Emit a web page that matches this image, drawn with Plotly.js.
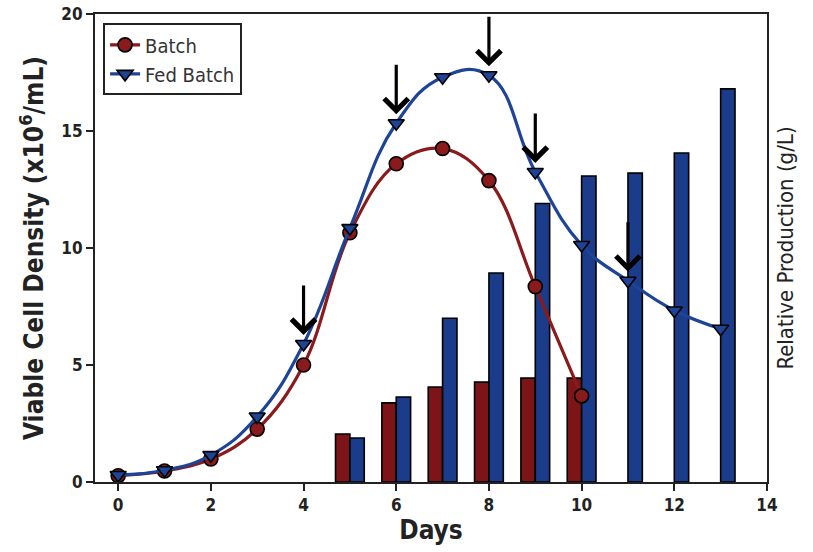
<!DOCTYPE html>
<html>
<head>
<meta charset="utf-8">
<script src="https://cdn.plot.ly/plotly-3.0.1.min.js"></script>
<style>html,body{margin:0;padding:0;background:#fff;}#chart{width:813px;height:552px;}</style>
</head>
<body>
<div id="chart"></div>
<script>
// Days
const days = [0,1,2,3,4,5,6,7,8,9,10,11,12,13];
// Viable cell density (x10^6/mL)
const batchDays = [0,1,2,3,4,5,6,7,8,9,10];
const batchVCD = [0.27,0.47,0.98,2.26,5.0,10.65,13.6,14.25,12.88,8.35,3.68];
const fedDays = [0,1,2,3,4,5,6,7,8,9,10,11,12,13];
const fedVCD = [0.3,0.5,1.15,2.8,5.9,10.85,15.33,17.3,17.38,13.25,10.13,8.6,7.33,6.55];
// Relative production (g/L) bars
const barBatchDays = [5,6,7,8,9,10];
const barBatch = [2.05,3.38,4.06,4.27,4.44,4.44];
const barFedDays = [5,6,7,8,9,10,11,12,13];
const barFed = [1.88,3.63,7.0,8.93,11.9,13.08,13.2,14.06,16.8];
// Feeding days (arrows)
const feedDays = [4,6,8,9,11];

const RED = '#8a1a1c', BLUE = '#1d4496', BAR_RED = '#7d1518', BAR_BLUE = '#1a3c8b';
const COND = '"Liberation Sans Narrow","DejaVu Sans Condensed","Arial Narrow",sans-serif';

const traces = [
  {type:'bar', x:barBatchDays, y:barBatch, name:'Batch production', showlegend:false,
   marker:{color:BAR_RED, line:{color:'#000', width:1.6}}, hoverinfo:'x+y'},
  {type:'bar', x:barFedDays, y:barFed, name:'Fed Batch production', showlegend:false,
   marker:{color:BAR_BLUE, line:{color:'#000', width:1.6}}, hoverinfo:'x+y'},
  {type:'scatter', mode:'lines+markers', x:batchDays, y:batchVCD, name:'Batch',
   line:{color:RED, width:3.2, shape:'spline', smoothing:1.1},
   marker:{symbol:'circle', size:14, color:RED, line:{color:'#000', width:1.6}}},
  {type:'scatter', mode:'lines+markers', x:fedDays, y:fedVCD, name:'Fed Batch',
   line:{color:BLUE, width:3.2, shape:'spline', smoothing:1.25},
   marker:{symbol:'triangle-down', size:14, color:BLUE, line:{color:'#000', width:1.6}}},
  {type:'scatter', x:[], y:[], yaxis:'y2', showlegend:false, hoverinfo:'skip'}
];

const annotations = feedDays.map(d => ({
  x: d, y: fedVCD[fedDays.indexOf(d)], xref:'x', yref:'y',
  showarrow:true, arrowhead:4, arrowsize:1.45, arrowwidth:3.2, arrowcolor:'#000',
  ax:0, ay:-60, standoff:9, text:''
}));

const layout = {
  width:813, height:552,
  margin:{l:95, r:46, t:14, b:70, pad:0},
  paper_bgcolor:'#fff', plot_bgcolor:'#fff',
  font:{family:COND, color:'#222'},
  barmode:'group', bargap:0.38, bargroupgap:0,
  showlegend:true,
  legend:{x:0.012, y:0.98, xanchor:'left', yanchor:'top', bgcolor:'#fff',
          bordercolor:'#222', borderwidth:2, font:{family:COND, size:20, color:'#333'},
          tracegroupgap:0, itemwidth:30, entrywidth:160},
  xaxis:{range:[-0.5,14], tickvals:[0,2,4,6,8,10,12,14], ticks:'outside', ticklen:7, tickwidth:2,
         tickcolor:'#222', showline:true, linecolor:'#222', linewidth:2, mirror:true,
         showgrid:false, zeroline:false,
         tickfont:{family:COND, size:17, color:'#222', weight:'bold'},
         title:{text:'<b>Days</b>', font:{family:COND, size:26, color:'#222'}, standoff:6}},
  yaxis:{range:[0,20], tickvals:[0,5,10,15,20], ticks:'outside', ticklen:7, tickwidth:2,
         tickcolor:'#222', showline:true, linecolor:'#222', linewidth:2, mirror:true,
         showgrid:false, zeroline:false,
         tickfont:{family:COND, size:17, color:'#222', weight:'bold'},
         title:{text:'<b>Viable Cell Density (x10<sup>6</sup>/mL)</b>', font:{family:COND, size:26, color:'#222'}, standoff:10}},
  yaxis2:{overlaying:'y', side:'right', range:[0,20], showticklabels:false, ticks:'',
          showgrid:false, zeroline:false, showline:false,
          title:{text:'Relative Production (g/L)', font:{family:COND, size:22, color:'#222'}, standoff:10}},
  annotations:annotations
};

Plotly.newPlot('chart', traces, layout, {displayModeBar:false, staticPlot:true});
</script>
</body>
</html>
